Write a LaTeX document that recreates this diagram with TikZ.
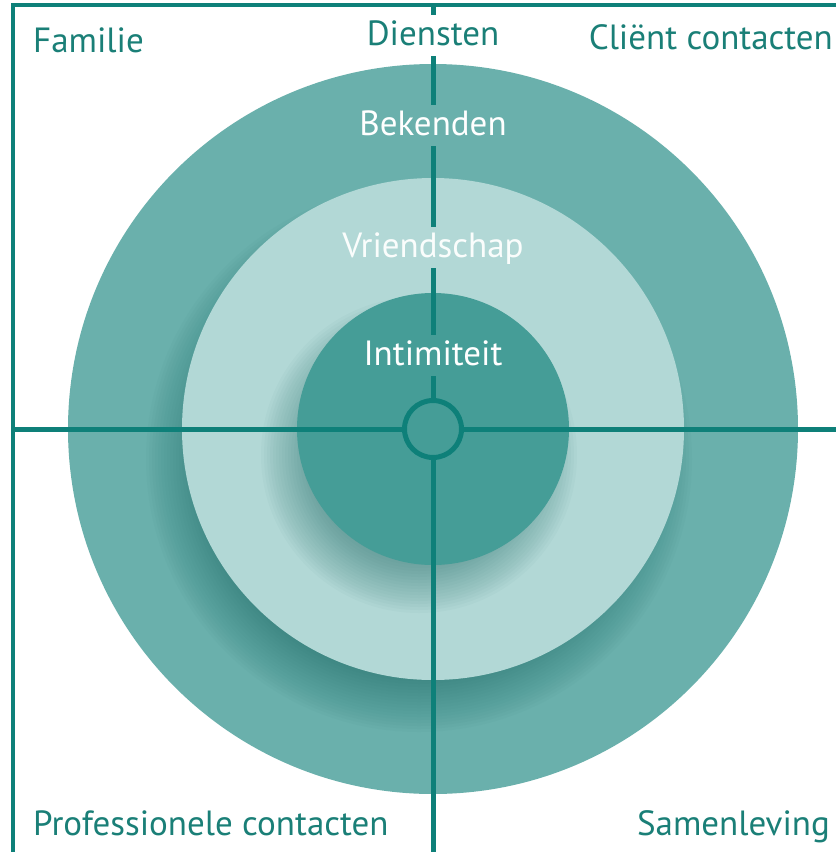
\documentclass[tikz,border=0pt]{standalone}
\usepackage{fontspec}
\setmainfont{PT Sans}
\usetikzlibrary{calc}
\definecolor{lineC}{HTML}{0E8079}
\definecolor{txtC}{HTML}{1A7F77}
\definecolor{outerC}{HTML}{6AB0AC}
\definecolor{midC}{HTML}{B2D8D6}
\definecolor{innerC}{HTML}{459D97}
\definecolor{shadC}{HTML}{1A6A65}
\begin{document}
\begin{tikzpicture}[x=1pt,y=-1pt,
  ln/.style={draw=lineC, line width=5pt},
  frameln/.style={draw=lineC, line width=4pt},
  lbl/.style={font=\fontsize{35}{40}\selectfont, text=txtC, inner sep=0pt},
  inlbl/.style={font=\fontsize{35}{40}\selectfont, text height=26pt, text depth=7pt, inner sep=4pt},
  disc/.style={circle, inner sep=0pt, draw=none}]
\useasboundingbox (0,0) rectangle (836,852);
\fill[white] (0,0) rectangle (836,852);
\coordinate (c) at (433,429);
% outer disc
\node[disc, fill=outerC, minimum size=730pt] (outer) at (c) {};
% shadow of middle disc onto outer ring
\begin{scope}
  \clip (c) circle [radius=365pt];
  \foreach \k in {0,...,21}{
    \fill[shadC, opacity=0.03] ($(c)+(-14,30)$) circle [radius={(251+22-\k*3)*1pt}];
  }
\end{scope}
% middle disc
\node[disc, fill=midC, minimum size=502pt] (middle) at (c) {};
% shadow of inner disc onto middle ring
\begin{scope}
  \clip (c) circle [radius=251pt];
  \foreach \k in {0,...,21}{
    \fill[shadC, opacity=0.03] ($(c)+(-14,26)$) circle [radius={(136+22-\k*3)*1pt}];
  }
\end{scope}
% inner disc
\node[disc, fill=innerC, minimum size=272pt] (inner) at (c) {};
% centre ring
\node[circle, draw=lineC, line width=5pt, fill=innerC, minimum size=57pt, inner sep=0pt] (ring) at (c) {};
% labels
\node[lbl, anchor=base west] (fam) at (33,52) {Familie};
\node[lbl, anchor=base east] (cli) at (833,49) {Cliënt contacten};
\node[lbl, anchor=base west] (pro) at (33,835) {Professionele contacten};
\node[lbl, anchor=base east] (sam) at (830,835) {Samenleving};
\node[inlbl, anchor=base, text=txtC] (dien) at (433,45) {Diensten};
\node[inlbl, anchor=base, text=white] (bek) at (433,135) {Bekenden};
\node[inlbl, anchor=base, text=white!94!midC] (vri) at (433,257) {Vriendschap};
\node[inlbl, anchor=base, text=white] (int) at (433,365) {Intimiteit};
% frame
\coordinate (tl) at (13,5);
\coordinate (tr) at (836,5);
\coordinate (bl) at (13,852);
\coordinate (vtop) at (433,5);
\coordinate (vbot) at (433,852);
\coordinate (hl) at (13,429);
\coordinate (hr) at (836,429);
\draw[frameln] (tr) -- (tl) -- (bl);
% cross
\draw[ln] (vtop) -- (dien.north);
\draw[ln] (dien.south) -- (bek.north);
\draw[ln] (bek.south) -- (vri.north);
\draw[ln] (vri.south) -- (int.north);
\draw[ln] (int.south) -- (ring.north);
\draw[ln] (ring.south) -- (vbot);
\draw[ln] (hl) -- (ring.west);
\draw[ln] (ring.east) -- (hr);
\end{tikzpicture}
\end{document}
